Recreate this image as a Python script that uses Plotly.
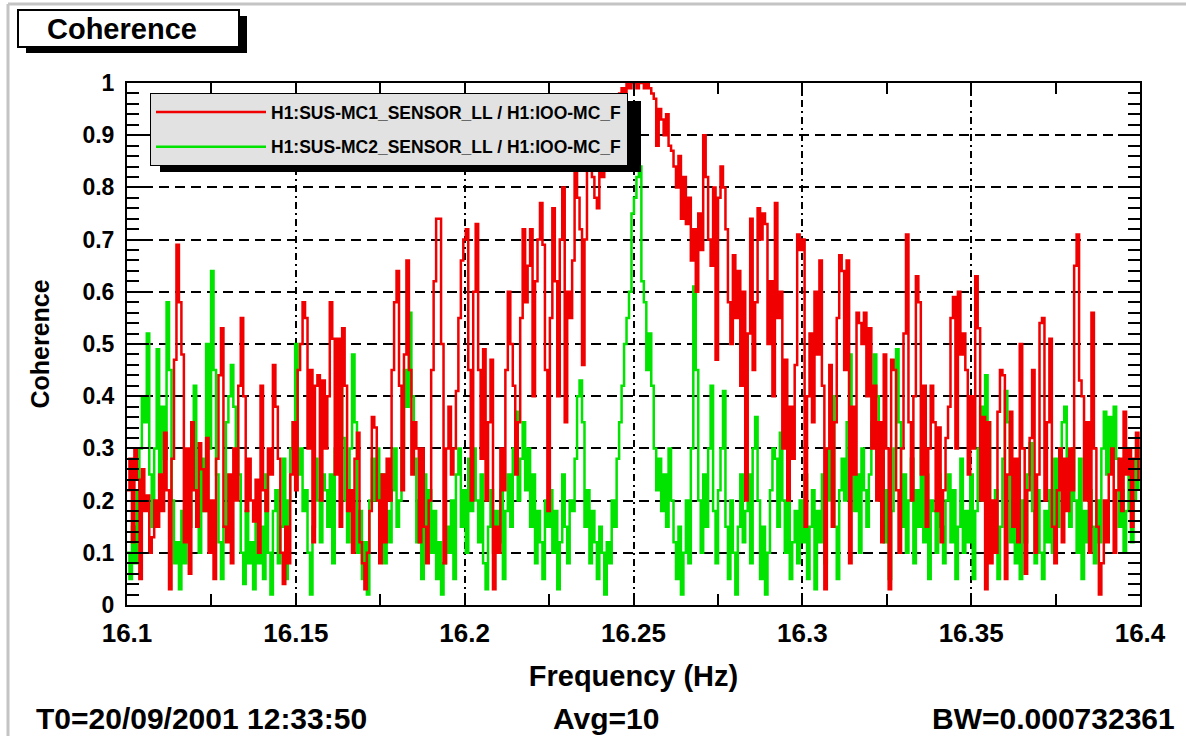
import plotly.graph_objects as go

# ---- data ----
F0 = 16.1            # first frequency bin (Hz)
BW = 0.000732361     # bin width (Hz)

mc1_coh = [
    0.22, 0.28, 0.12, 0.30, 0.24, 0.05, 0.26, 0.18, 0.21, 0.10,
    0.13, 0.20, 0.15, 0.25, 0.18, 0.33, 0.22, 0.03, 0.28, 0.47,
    0.69, 0.58, 0.48, 0.12, 0.30, 0.06, 0.35, 0.22, 0.15, 0.31,
    0.26, 0.18, 0.32, 0.10, 0.20, 0.05, 0.28, 0.44, 0.53, 0.15,
    0.12, 0.25, 0.08, 0.30, 0.20, 0.42, 0.55, 0.40, 0.18, 0.28,
    0.20, 0.16, 0.24, 0.10, 0.42, 0.22, 0.18, 0.30, 0.25, 0.46,
    0.38, 0.28, 0.10, 0.04, 0.15, 0.08, 0.25, 0.35, 0.22, 0.45,
    0.50, 0.58, 0.55, 0.30, 0.45, 0.12, 0.42, 0.44, 0.20, 0.43,
    0.30, 0.40, 0.58, 0.51, 0.25, 0.51, 0.15, 0.53, 0.42, 0.18,
    0.22, 0.10, 0.28, 0.33, 0.12, 0.08, 0.03, 0.10, 0.18, 0.36,
    0.34, 0.20, 0.08, 0.25, 0.12, 0.28, 0.20, 0.45, 0.58, 0.64,
    0.42, 0.22, 0.48, 0.66, 0.45, 0.25, 0.35, 0.30, 0.12, 0.30,
    0.15, 0.08, 0.20, 0.45, 0.62, 0.74, 0.74, 0.50, 0.08, 0.30,
    0.38, 0.25, 0.30, 0.41, 0.55, 0.66, 0.70, 0.72, 0.45, 0.20,
    0.60, 0.73, 0.45, 0.28, 0.49, 0.20, 0.35, 0.47, 0.03, 0.15,
    0.10, 0.30, 0.22, 0.45, 0.60, 0.50, 0.42, 0.25, 0.35, 0.55,
    0.72, 0.58, 0.65, 0.72, 0.40, 0.62, 0.70, 0.77, 0.69, 0.45,
    0.18, 0.55, 0.76, 0.62, 0.40, 0.70, 0.80, 0.35, 0.60, 0.55,
    0.66, 0.83, 0.78, 0.72, 0.46, 0.70, 0.91, 0.85, 0.82, 0.78,
    0.76, 0.88, 0.82, 0.92, 0.86, 0.95, 0.90, 0.97, 0.94, 0.98,
    0.99, 0.98, 1.00, 0.99, 1.00, 1.00, 0.99, 1.00, 1.00, 0.99,
    1.00, 0.99, 0.98, 0.97, 0.88, 0.95, 0.93, 0.90, 0.94, 0.88,
    0.87, 0.84, 0.80, 0.86, 0.74, 0.82, 0.73, 0.78, 0.66, 0.72,
    0.60, 0.75, 0.68, 0.90, 0.82, 0.70, 0.65, 0.80, 0.47, 0.78,
    0.84, 0.80, 0.72, 0.58, 0.50, 0.67, 0.55, 0.64, 0.42, 0.60,
    0.20, 0.52, 0.74, 0.45, 0.58, 0.76, 0.70, 0.75, 0.73, 0.50,
    0.62, 0.40, 0.77, 0.55, 0.60, 0.30, 0.47, 0.20, 0.38, 0.28,
    0.46, 0.71, 0.68, 0.70, 0.15, 0.40, 0.52, 0.35, 0.60, 0.48,
    0.66, 0.42, 0.03, 0.30, 0.46, 0.15, 0.35, 0.55, 0.67, 0.64,
    0.45, 0.66, 0.08, 0.38, 0.25, 0.56, 0.54, 0.50, 0.56, 0.40,
    0.53, 0.30, 0.42, 0.20, 0.35, 0.12, 0.48, 0.30, 0.03, 0.47,
    0.45, 0.22, 0.10, 0.30, 0.52, 0.71, 0.35, 0.20, 0.40, 0.63,
    0.58, 0.25, 0.42, 0.15, 0.30, 0.42, 0.35, 0.18, 0.34, 0.12,
    0.22, 0.32, 0.38, 0.55, 0.59, 0.30, 0.60, 0.48, 0.52, 0.45,
    0.25, 0.40, 0.30, 0.63, 0.53, 0.20, 0.36, 0.03, 0.35, 0.08,
    0.20, 0.10, 0.37, 0.45, 0.44, 0.05, 0.25, 0.37, 0.15, 0.28,
    0.12, 0.50, 0.30, 0.06, 0.22, 0.32, 0.45, 0.10, 0.25, 0.54,
    0.55, 0.20, 0.35, 0.51, 0.15, 0.08, 0.22, 0.30, 0.12, 0.28,
    0.18, 0.30, 0.22, 0.65, 0.71, 0.43, 0.40, 0.20, 0.35, 0.10,
    0.56, 0.30, 0.15, 0.02, 0.08, 0.20, 0.12, 0.25, 0.30, 0.10,
    0.22, 0.28, 0.18, 0.37, 0.25, 0.30, 0.15, 0.28, 0.33, 0.24,
]

mc2_coh = [
    0.10, 0.05, 0.15, 0.08, 0.22, 0.30, 0.40, 0.35, 0.52, 0.25,
    0.15, 0.30, 0.49, 0.22, 0.38, 0.28, 0.58, 0.45, 0.20, 0.08,
    0.12, 0.03, 0.18, 0.08, 0.25, 0.15, 0.35, 0.42, 0.20, 0.10,
    0.28, 0.18, 0.50, 0.30, 0.64, 0.45, 0.25, 0.12, 0.05, 0.15,
    0.35, 0.40, 0.46, 0.38, 0.30, 0.25, 0.10, 0.04, 0.18, 0.08,
    0.12, 0.03, 0.20, 0.08, 0.15, 0.05, 0.25, 0.10, 0.02, 0.18,
    0.22, 0.08, 0.15, 0.28, 0.05, 0.20, 0.30, 0.35, 0.50, 0.25,
    0.30, 0.18, 0.22, 0.10, 0.02, 0.15, 0.28, 0.20, 0.12, 0.25,
    0.22, 0.15, 0.25, 0.08, 0.30, 0.40, 0.45, 0.32, 0.20, 0.12,
    0.30, 0.48, 0.35, 0.10, 0.18, 0.05, 0.12, 0.02, 0.20, 0.28,
    0.20, 0.30, 0.15, 0.25, 0.08, 0.18, 0.12, 0.22, 0.30, 0.15,
    0.20, 0.30, 0.45, 0.38, 0.56, 0.40, 0.28, 0.12, 0.20, 0.05,
    0.25, 0.15, 0.22, 0.10, 0.18, 0.05, 0.12, 0.02, 0.08, 0.15,
    0.10, 0.20, 0.05, 0.25, 0.30, 0.15, 0.22, 0.10, 0.28, 0.18,
    0.30, 0.20, 0.12, 0.25, 0.08, 0.03, 0.15, 0.22, 0.10, 0.18,
    0.12, 0.22, 0.05, 0.18, 0.25, 0.15, 0.30, 0.37, 0.20, 0.28,
    0.35, 0.22, 0.30, 0.15, 0.25, 0.08, 0.18, 0.12, 0.05, 0.20,
    0.15, 0.22, 0.10, 0.18, 0.03, 0.12, 0.25, 0.15, 0.08, 0.20,
    0.18, 0.28, 0.40, 0.43, 0.35, 0.15, 0.22, 0.08, 0.18, 0.12,
    0.05, 0.15, 0.10, 0.02, 0.12, 0.08, 0.20, 0.15, 0.28, 0.35,
    0.42, 0.50, 0.55, 0.60, 0.75, 0.78, 0.82, 0.84, 0.62, 0.58,
    0.45, 0.52, 0.42, 0.30, 0.22, 0.28, 0.18, 0.25, 0.15, 0.30,
    0.20, 0.12, 0.05, 0.15, 0.02, 0.10, 0.20, 0.08, 0.30, 0.61,
    0.45, 0.20, 0.10, 0.25, 0.15, 0.30, 0.42, 0.18, 0.08, 0.22,
    0.30, 0.41, 0.15, 0.05, 0.20, 0.10, 0.02, 0.15, 0.25, 0.12,
    0.18, 0.25, 0.08, 0.30, 0.36, 0.20, 0.05, 0.15, 0.02, 0.10,
    0.22, 0.30, 0.28, 0.15, 0.33, 0.20, 0.10, 0.25, 0.05, 0.12,
    0.18, 0.08, 0.20, 0.12, 0.25, 0.05, 0.15, 0.22, 0.03, 0.18,
    0.12, 0.25, 0.08, 0.30, 0.20, 0.40, 0.15, 0.05, 0.22, 0.28,
    0.20, 0.35, 0.48, 0.30, 0.18, 0.25, 0.10, 0.30, 0.22, 0.15,
    0.25, 0.35, 0.48, 0.40, 0.20, 0.28, 0.12, 0.22, 0.05, 0.18,
    0.30, 0.49, 0.35, 0.15, 0.25, 0.10, 0.20, 0.28, 0.08, 0.22,
    0.15, 0.30, 0.12, 0.25, 0.05, 0.20, 0.18, 0.10, 0.25, 0.15,
    0.08, 0.20, 0.25, 0.12, 0.22, 0.05, 0.15, 0.28, 0.10, 0.18,
    0.12, 0.25, 0.05, 0.18, 0.30, 0.38, 0.20, 0.44, 0.35, 0.15,
    0.10, 0.22, 0.05, 0.15, 0.28, 0.41, 0.35, 0.12, 0.20, 0.08,
    0.15, 0.05, 0.20, 0.12, 0.25, 0.31, 0.18, 0.08, 0.22, 0.10,
    0.05, 0.18, 0.12, 0.22, 0.10, 0.28, 0.15, 0.30, 0.35, 0.38,
    0.25, 0.15, 0.30, 0.20, 0.10, 0.28, 0.05, 0.18, 0.12, 0.22,
    0.15, 0.08, 0.20, 0.12, 0.30, 0.37, 0.25, 0.36, 0.30, 0.38,
    0.28, 0.15, 0.22, 0.10, 0.18, 0.25, 0.12, 0.20, 0.30, 0.22,
]

names = ["H1:SUS-MC1_SENSOR_LL / H1:IOO-MC_F",
         "H1:SUS-MC2_SENSOR_LL / H1:IOO-MC_F"]
colors = ["#f00000", "#00e400"]

x_ticks = [16.1, 16.15, 16.2, 16.25, 16.3, 16.35, 16.4]
x_ticktext = ["16.1", "16.15", "16.2", "16.25", "16.3", "16.35", "16.4"]
y_ticks = [0, 0.1, 0.2, 0.3, 0.4, 0.5, 0.6, 0.7, 0.8, 0.9, 1.0]
y_ticktext = ["0", "0.1", "0.2", "0.3", "0.4", "0.5", "0.6", "0.7", "0.8", "0.9", "1"]

freq = [F0 + BW * i for i in range(len(mc1_coh))]

FONT = "Liberation Sans, Arial, Helvetica, sans-serif"

# ---- figure geometry (pixels) ----
W, H = 1186, 736
ML, MR, MT, MB = 127, 46, 83, 131
PW, PH = W - ML - MR, H - MT - MB


def px(x):
    return (x - ML) / PW


def py(y):
    return (H - MB - y) / PH


fig = go.Figure()

# green first so red lies on top; legend order fixed via legendrank
fig.add_trace(go.Scatter(x=freq, y=mc2_coh, mode="lines", name=names[1],
                         line=dict(color=colors[1], width=2.5, shape="hv"),
                         legendrank=2, legendgroup="b"))
fig.add_trace(go.Scatter(x=freq, y=mc1_coh, mode="lines", name=names[0],
                         line=dict(color=colors[0], width=2.5, shape="hv"),
                         legendrank=1, legendgroup="a"))

shapes = [
    # canvas border lines (top and left)
    dict(type="line", xref="paper", yref="paper", x0=px(8), x1=px(1190), y0=py(4), y1=py(4),
         line=dict(color="#c4c4c4", width=3), layer="below"),
    dict(type="line", xref="paper", yref="paper", x0=px(8), x1=px(8), y0=py(4), y1=py(740),
         line=dict(color="#c4c4c4", width=3), layer="below"),
    # title box shadow + box
    dict(type="rect", xref="paper", yref="paper", x0=px(26), x1=px(247), y0=py(53), y1=py(16),
         fillcolor="black", line=dict(width=0)),
    dict(type="rect", xref="paper", yref="paper", x0=px(18), x1=px(239), y0=py(47), y1=py(10),
         fillcolor="white", line=dict(color="black", width=2)),
    # legend shadow
    dict(type="rect", xref="paper", yref="paper", x0=px(160), x1=px(641), y0=py(172), y1=py(101),
         fillcolor="black", line=dict(width=0), layer="above"),
]

annotations = [
    dict(text="Coherence", xref="paper", yref="paper", x=px(122), y=py(29),
         xanchor="center", yanchor="middle", showarrow=False,
         font=dict(family=FONT, size=29, color="black", weight="bold")),
    dict(text="T0=20/09/2001 12:33:50", xref="paper", yref="paper", x=px(34), y=py(718),
         xanchor="left", yanchor="middle", showarrow=False,
         font=dict(family=FONT, size=30, color="black", weight="bold")),
    dict(text="Avg=10", xref="paper", yref="paper", x=px(606), y=py(718),
         xanchor="center", yanchor="middle", showarrow=False,
         font=dict(family=FONT, size=30, color="black", weight="bold")),
    dict(text="BW=0.000732361", xref="paper", yref="paper", x=px(1177), y=py(718),
         xanchor="right", yanchor="middle", showarrow=False,
         font=dict(family=FONT, size=30, color="black", weight="bold")),
]

fig.update_layout(
    width=W, height=H,
    margin=dict(l=ML, r=MR, t=MT, b=MB, pad=0),
    paper_bgcolor="white", plot_bgcolor="white",
    font=dict(family=FONT, color="black"),
    showlegend=True,
    legend=dict(x=px(150), y=py(93), xanchor="left", yanchor="top",
                bgcolor="#e2e2e2", bordercolor="black", borderwidth=1,
                font=dict(family=FONT, size=17.5, color="black", weight="bold"),
                itemwidth=110, traceorder="grouped", tracegroupgap=9,
                itemclick=False),
    shapes=shapes,
    annotations=annotations,
    xaxis=dict(
        range=[16.1, 16.4], tickmode="array", tickvals=x_ticks, ticktext=x_ticktext,
        ticks="inside", ticklen=11, tickwidth=1.5, tickcolor="black",
        minor=dict(ticks="inside", dtick=0.025, tick0=16.1, ticklen=11,
                   tickwidth=1.5, tickcolor="black", showgrid=False),
        showgrid=True, gridcolor="black", gridwidth=1.5, griddash="7px,4px,2px,4px",
        showline=True, linecolor="black", linewidth=2, mirror="ticks",
        zeroline=False,
        tickfont=dict(family=FONT, size=26, color="black", weight="bold"),
        ticklabelstandoff=4,
        title=dict(text="Frequency (Hz)", standoff=18,
                   font=dict(family=FONT, size=29, color="black", weight="bold")),
    ),
    yaxis=dict(
        range=[0, 1], tickmode="array", tickvals=y_ticks, ticktext=y_ticktext,
        ticks="inside", ticklen=22, tickwidth=1.5, tickcolor="black",
        minor=dict(ticks="inside", dtick=0.02, tick0=0, ticklen=12,
                   tickwidth=1.5, tickcolor="black", showgrid=False),
        showgrid=True, gridcolor="black", gridwidth=1.5, griddash="10px,6px",
        showline=True, linecolor="black", linewidth=2, mirror="ticks",
        zeroline=False,
        tickfont=dict(family=FONT, size=23, color="black", weight="bold"),
        ticklabelstandoff=6,
        title=dict(text="Coherence", standoff=26,
                   font=dict(family=FONT, size=25, color="black", weight="bold")),
    ),
)

fig.write_html("out.html")
